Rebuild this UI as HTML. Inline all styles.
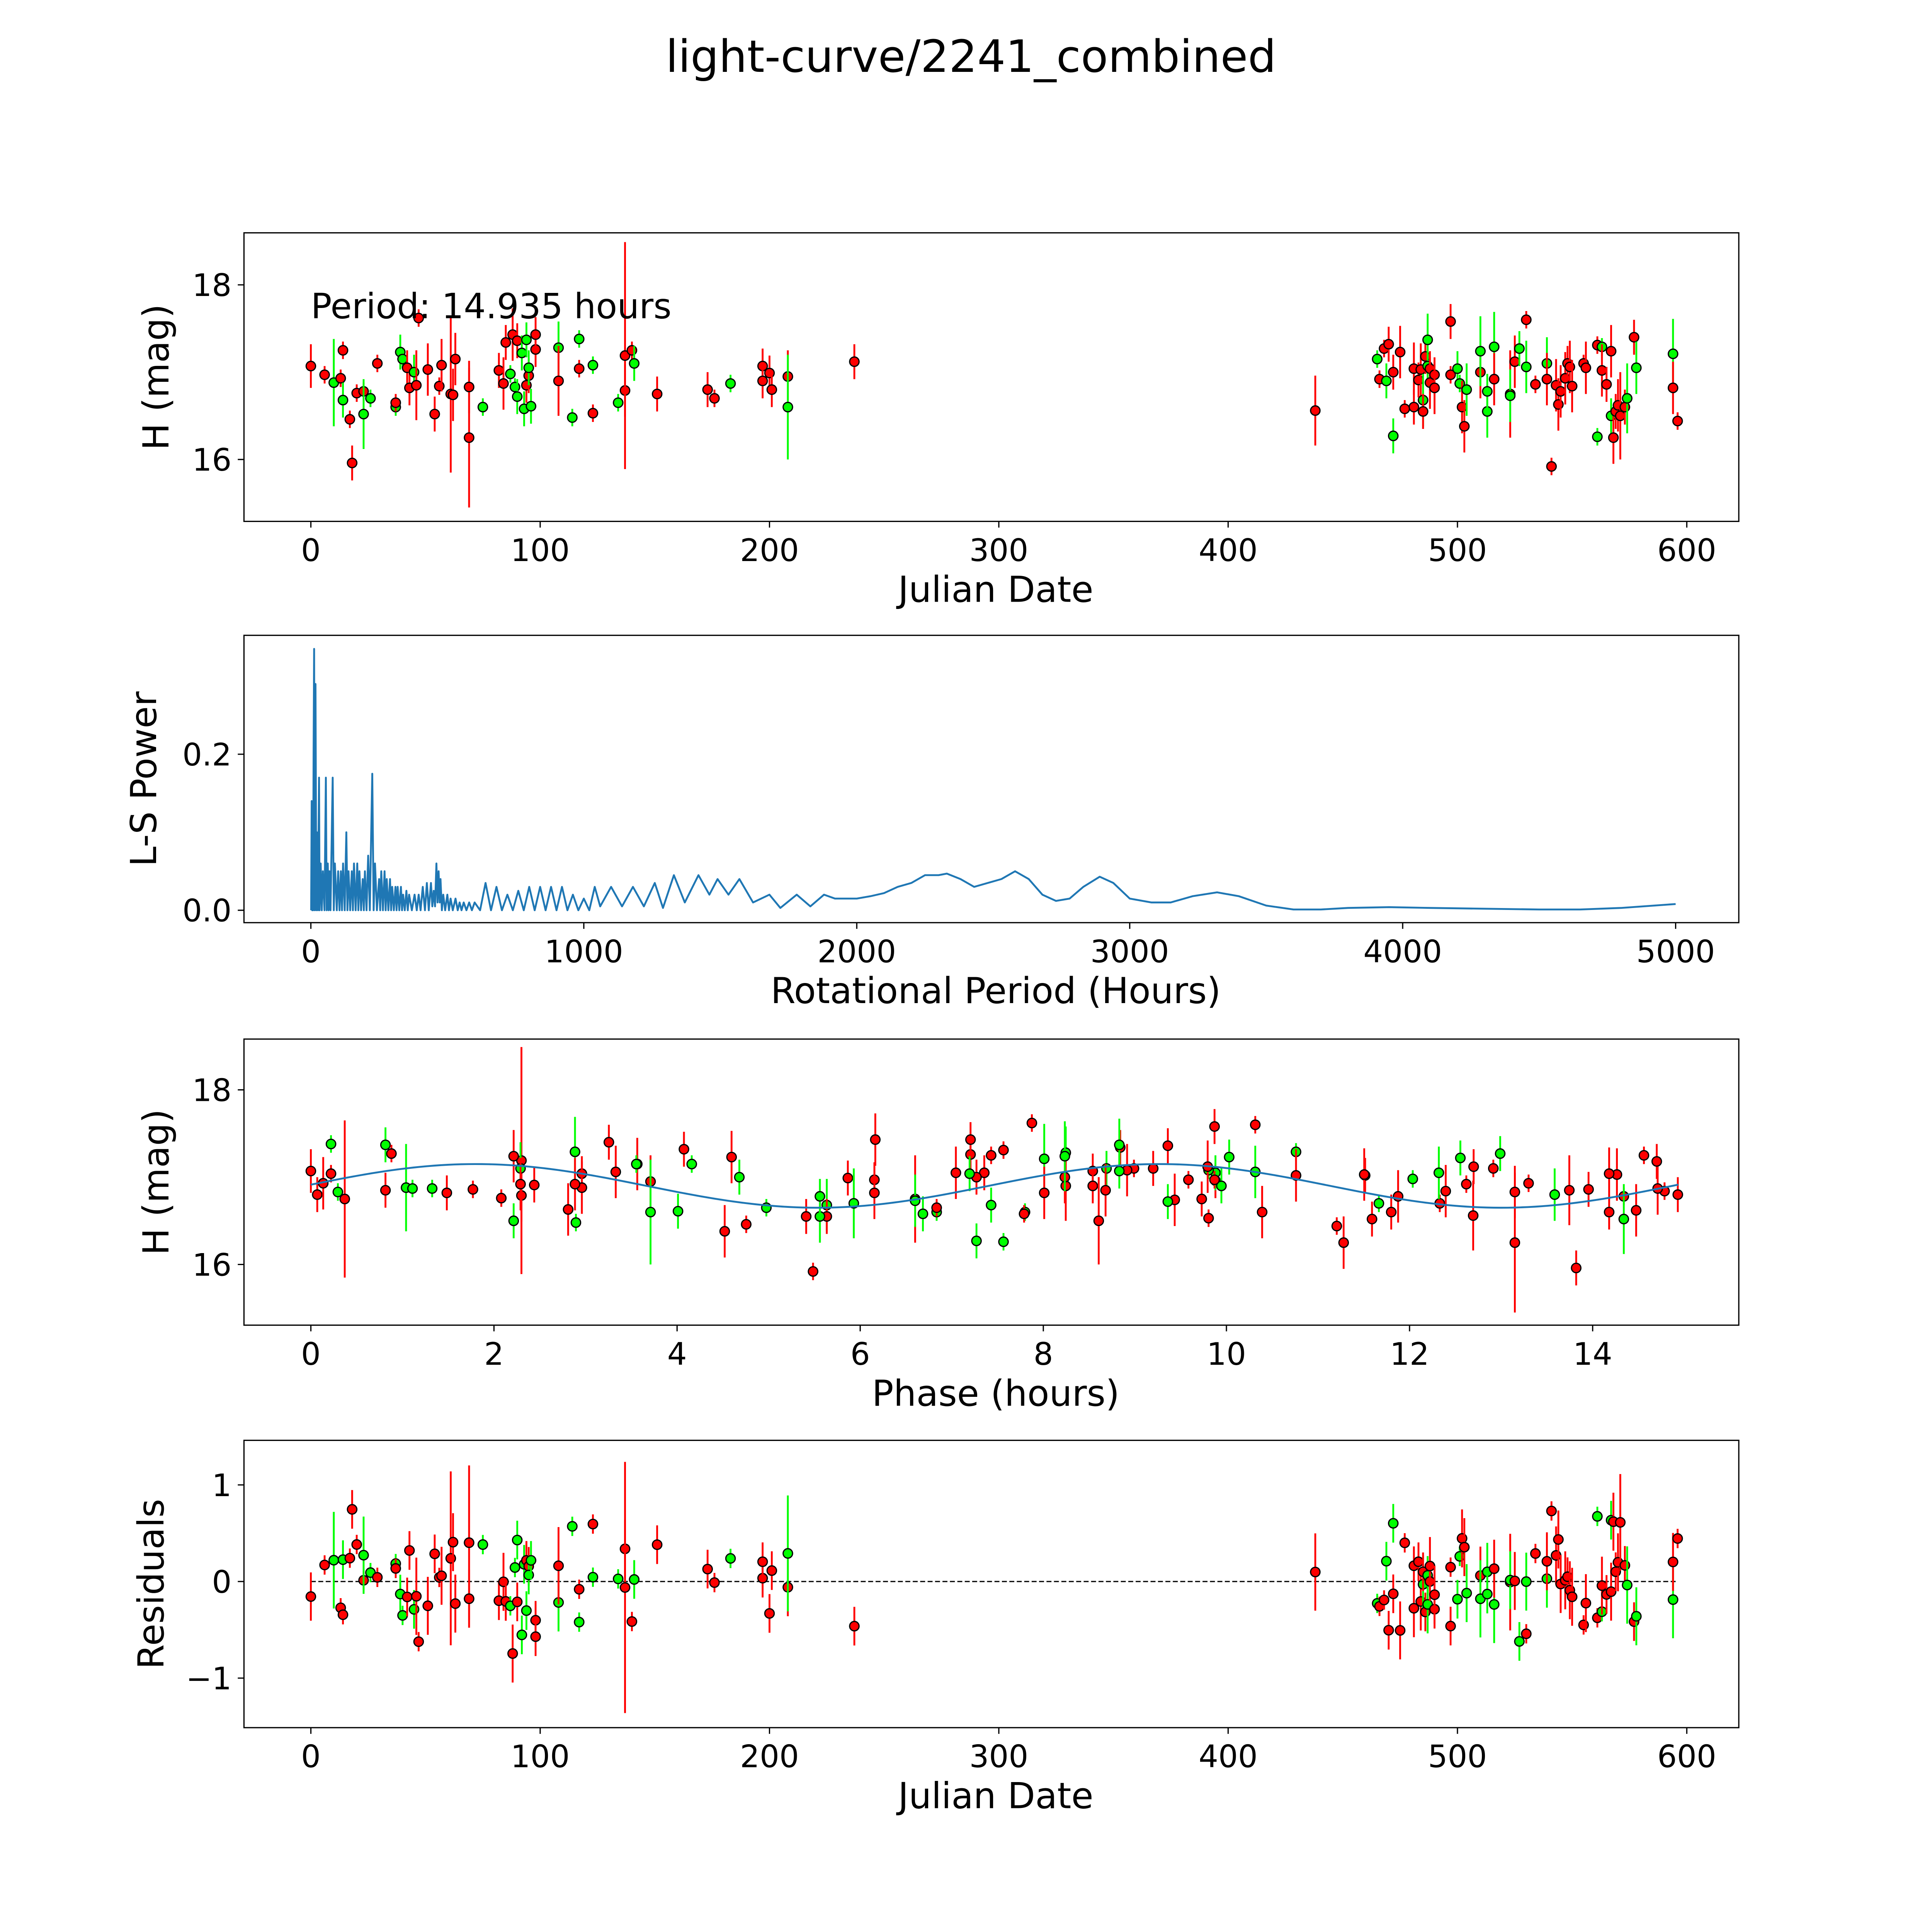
<!DOCTYPE html>
<html><head><meta charset="utf-8"><style>
html,body{margin:0;padding:0;background:#fff;overflow:hidden;width:100%;height:100%;}
svg{display:block;width:100vw;height:100vh;}
text{font-family:"DejaVu Sans","Liberation Sans",sans-serif;fill:#000;}
</style></head><body>
<svg id="fig" xmlns="http://www.w3.org/2000/svg" viewBox="0 0 1560 1560" preserveAspectRatio="none">
<rect width="1560" height="1560" fill="#fff"/>
<text x="784" y="58" font-size="36" text-anchor="middle">light-curve/2241_combined</text>
</svg>
<script>
// Observations (Julian date offset, magnitude H, error, filter colour)
const dates=[0,6,10,13,14,14,17,18,20,23,23,26,29,37,37,39,40,42,43,45,46,47,51,54,56,57,61,62,63,69,69,75,82,84,85,87,88,89,90,90,92,93,94,94,95,95,96,98,98,108,108,114,117,117,123,123,134,137,137,140,141,151,173,176,183,197,197,200,201,208,208,237,438,465,466,468,469,470,472,472,475,477,481,481,483,484,485,485,486,487,487,488,488,490,490,497,497,500,501,502,503,504,510,510,513,513,516,516,523,523,525,527,530,530,534,539,539,541,543,544,545,547,548,549,550,555,556,561,561,563,563,565,567,567,568,569,570,571,573,574,577,578,594,594,596];
const mags=[17.07,16.97,16.88,16.93,17.25,16.68,16.46,15.96,16.76,16.78,16.52,16.7,17.1,16.6,16.65,17.23,17.15,17.05,16.82,17.0,16.85,17.62,17.03,16.52,16.84,17.08,16.75,16.74,17.15,16.25,16.83,16.6,17.02,16.87,17.34,16.98,17.43,16.83,17.36,16.72,17.22,16.58,17.37,16.85,16.96,17.05,16.61,17.26,17.43,17.28,16.9,16.48,17.04,17.38,16.53,17.08,16.65,16.79,17.19,17.25,17.1,16.75,16.8,16.7,16.87,17.07,16.9,16.99,16.8,16.95,16.6,17.12,16.56,17.15,16.92,17.27,16.9,17.32,16.27,17.0,17.23,16.58,16.6,17.04,16.91,17.03,16.68,16.55,17.18,17.37,17.07,17.04,16.88,16.97,16.82,17.58,16.97,17.04,16.87,16.6,16.38,16.8,17.0,17.24,16.55,16.78,17.29,16.92,16.75,16.73,17.12,17.27,17.6,17.06,16.86,17.1,16.92,15.92,16.85,16.63,16.78,16.93,17.1,17.06,16.84,17.1,17.05,16.26,17.31,17.29,17.02,16.86,17.24,16.5,16.25,16.55,16.62,16.5,16.6,16.7,17.4,17.05,17.21,16.82,16.44];
const errs=[0.25,0.1,0.5,0.1,0.1,0.2,0.1,0.2,0.1,0.1,0.4,0.1,0.1,0.1,0.1,0.2,0.1,0.2,0.2,0.2,0.4,0.1,0.3,0.2,0.1,0.3,0.9,0.3,0.3,0.8,0.3,0.1,0.2,0.3,0.2,0.1,0.3,0.1,0.2,0.2,0.2,0.2,0.2,0.2,0.2,0.2,0.2,0.2,0.2,0.3,0.4,0.1,0.1,0.1,0.1,0.1,0.1,0.3,1.3,0.1,0.2,0.2,0.2,0.1,0.1,0.2,0.2,0.2,0.2,0.3,0.6,0.2,0.4,0.1,0.1,0.1,0.2,0.2,0.2,0.2,0.3,0.1,0.2,0.3,0.2,0.3,0.3,0.2,0.2,0.3,0.2,0.2,0.3,0.2,0.3,0.2,0.1,0.2,0.1,0.3,0.3,0.3,0.3,0.4,0.3,0.2,0.4,0.3,0.5,0.3,0.3,0.2,0.1,0.3,0.1,0.3,0.3,0.1,0.3,0.3,0.3,0.3,0.2,0.3,0.3,0.1,0.3,0.1,0.1,0.1,0.3,0.2,0.3,0.2,0.3,0.2,0.3,0.5,0.2,0.4,0.2,0.3,0.4,0.3,0.1];
const filters="rrgrrgrrrrggrgrggrrgrrrrrrrrrrrgrrrgrgrggggrrggrrgrgrgrggrrrgrrrgrrrrrgrrgrrgrgrrrrrrrgrrggrrrrrrggrrgrggggrrgrgrgrgrrrrrrrrrrrgrgrrrgrrrrrgrggrrrr".split("");
const fitPeriod=14.935, fitMean=16.9, fitAmp=0.25, fitPeak=1.8;
// Lomb-Scargle periodogram (period hours, power) — same length arrays
const lsPeriods=[
 1,3,5,6,8,10,12,14,17,20,22,26,30,32,36,40,44,50,55,58,
 62,65,68,72,80,84,88,95,100,105,110,114,118,124,130,134,138,144,150,154,
 158,164,170,174,178,184,190,194,198,204,210,216,225,230,235,242,250,254,258,264,
 270,274,278,284,290,294,298,304,310,314,318,324,330,334,338,344,350,355,360,370,
 380,388,395,402,410,418,425,432,440,445,450,455,460,464,468,472,475,480,485,492,
 500,506,512,520,530,538,545,552,560,570,580,590,600,620,640,660,680,700,720,740,
 760,780,800,820,840,860,880,900,920,940,960,980,1000,1020,1040,1060,1100,1140,1180,1220,
 1260,1290,1330,1370,1420,1460,1490,1530,1570,1620,1680,1720,1780,1830,1880,1920,2000,2050,2100,2150,
 2200,2250,2300,2330,2380,2430,2480,2530,2580,2630,2680,2730,2780,2830,2890,2940,3000,3080,3150,3230,
 3320,3400,3500,3600,3700,3800,3950,4100,4300,4500,4650,4800,5000];
const lsPowers=[
 0,0.14,0,0.1,0,0.2,0.335,0,0.29,0,0.1,0,0.17,0,0.06,0,0.05,0,0.17,0,
 0.06,0,0.05,0,0.17,0,0.06,0,0.05,0,0.05,0,0.06,0,0.1,0,0.05,0,0.05,0,
 0.06,0,0.06,0,0.05,0,0.04,0,0.05,0,0.07,0,0.175,0,0.06,0,0.04,0,0.05,0,
 0.05,0,0.04,0,0.04,0,0.03,0,0.03,0,0.03,0,0.03,0,0.02,0,0.025,0,0.02,0,
 0.02,0,0.02,0,0.03,0,0.035,0,0.035,0.005,0.025,0.005,0.06,0.01,0.05,0.01,0.04,0,0.02,0,
 0.02,0,0.015,0,0.015,0,0.01,0,0.01,0,0.01,0,0.01,0,0.035,0,0.03,0,0.02,0,
 0.025,0,0.03,0,0.03,0,0.03,0,0.03,0,0.02,0,0.015,0,0.03,0.005,0.03,0.005,0.03,0.005,
 0.035,0.003,0.045,0.01,0.045,0.02,0.04,0.02,0.04,0.01,0.02,0.003,0.02,0.005,0.02,0.015,0.015,0.018,0.022,0.03,
 0.035,0.045,0.045,0.047,0.04,0.03,0.035,0.04,0.05,0.04,0.02,0.012,0.015,0.03,0.043,0.035,0.015,0.01,0.01,0.018,
 0.023,0.018,0.006,0.001,0.001,0.003,0.004,0.003,0.002,0.001,0.001,0.003,0.008];

const NS="http://www.w3.org/2000/svg";
const svg=document.getElementById('fig');
function mk(tag,attrs,parent){const e=document.createElementNS(NS,tag);for(const k in attrs)e.setAttribute(k,attrs[k]);(parent||svg).appendChild(e);return e;}
function lin(d0,d1,p0,p1){return v=>p0+(v-d0)*(p1-p0)/(d1-d0);}
function model(p){return fitMean+fitAmp*Math.cos(2*Math.PI*(p-fitPeak)/(fitPeriod/2));}
const COL={r:'#ff0000',g:'#00ff00'};

function axes(name,top,bot,sx,sy,xt,xtl,yt,ytl,xlabel,ylabel,ylx){
  const g=mk('g',{});
  
  
  const box=mk('rect',{x:197,y:top,width:1207,height:bot-top,fill:'none',stroke:'#000','stroke-width':1},g);
  
  
  xt.forEach((v,i)=>{const x=sx(v);mk('line',{x1:x,x2:x,y1:bot,y2:bot+5,stroke:'#000','stroke-width':1},g);
    const t=mk('text',{x:x,y:bot+32,'font-size':25,'text-anchor':'middle'},g);t.textContent=xtl[i];
    
    });
  yt.forEach((v,i)=>{const y=sy(v);mk('line',{x1:192,x2:197,y1:y,y2:y,stroke:'#000','stroke-width':1},g);
    const t=mk('text',{x:187,y:y+9,'font-size':25,'text-anchor':'end'},g);t.textContent=ytl[i];
    
    });
  const xl=mk('text',{x:804,y:bot+65,'font-size':29,'text-anchor':'middle'},g);xl.textContent=xlabel;
  
  
  const cy=(top+bot)/2;
  const yl=mk('text',{x:ylx,y:cy,'font-size':29,'text-anchor':'middle',transform:`rotate(-90 ${ylx} ${cy})`},g);yl.textContent=ylabel;
  
  
  return g;
}
function errPoint(g,x,y,y0,y1,c){
  const l=mk('line',{x1:x,x2:x,y1:y0,y2:y1,stroke:COL[c],'stroke-width':1.5},g);
  
  
  const p=mk('circle',{cx:x,cy:y,r:3.8,fill:COL[c],stroke:'#000','stroke-width':1},g);
  
  
}
const jdTicks=[0,100,200,300,400,500,600];
const jdLabels=jdTicks.map(String);

// Panel 1
{const sx=lin(0,600,251,1362), sy=lin(16,18,371,230);
 const g=axes('lightcurve-panel',188,421,sx,sy,jdTicks,jdLabels,[16,18],['16','18'],'Julian Date','H (mag)',136);
 dates.forEach((d,i)=>errPoint(g,sx(d),sy(mags[i]),sy(mags[i]-errs[i]),sy(mags[i]+errs[i]),filters[i]));
 const t=mk('text',{x:251,y:257,'font-size':28},g);t.textContent='Period: 14.935 hours';
 
 }

// Panel 2
{const sx=lin(0,5000,251,1353), sy=lin(0,0.2,735,609);
 const g=axes('periodogram-panel',513,745,sx,sy,[0,1000,2000,3000,4000,5000],['0','1000','2000','3000','4000','5000'],[0,0.2],['0.0','0.2'],'Rotational Period (Hours)','L-S Power',126);
 const d=lsPeriods.map((p,i)=>(i?'L':'M')+sx(p).toFixed(2)+','+sy(lsPowers[i]).toFixed(2)).join(' ');
 const pl=mk('path',{d:d,fill:'none',stroke:'#1f77b4','stroke-width':1.5,'stroke-linejoin':'round'},g);
 
 }

// Panel 3
{const sx=lin(0,14,251,1286), sy=lin(16,18,1021,880);
 const g=axes('phase-panel',839,1070,sx,sy,[0,2,4,6,8,10,12,14],['0','2','4','6','8','10','12','14'],[16,18],['16','18'],'Phase (hours)','H (mag)',136);
 dates.forEach((dt,i)=>{const ph=(dt*24)%fitPeriod;
   errPoint(g,sx(ph),sy(mags[i]),sy(mags[i]-errs[i]),sy(mags[i]+errs[i]),filters[i]);});
 let d='';for(let k=0;k<=200;k++){const p=fitPeriod*k/200;d+=(k?'L':'M')+sx(p).toFixed(2)+','+sy(model(p)).toFixed(2)+' ';}
 const c=mk('path',{d:d,fill:'none',stroke:'#1f77b4','stroke-width':1.5},g);
 
 }

// Panel 4
{const sx=lin(0,600,251,1362), sy=lin(0,1,1277,1199);
 const g=axes('residuals-panel',1163,1395,sx,sy,jdTicks,jdLabels,[-1,0,1],['\u22121','0','1'],'Julian Date','Residuals',132);
 const z=mk('line',{x1:sx(0),x2:sx(596),y1:sy(0),y2:sy(0),stroke:'#000','stroke-width':1,'stroke-dasharray':'4,2'},g);
 
 
 dates.forEach((dt,i)=>{const ph=(dt*24)%fitPeriod;const r=model(ph)-mags[i];
   errPoint(g,sx(dt),sy(r),sy(r-errs[i]),sy(r+errs[i]),filters[i]);});}
</script>
</body></html>
